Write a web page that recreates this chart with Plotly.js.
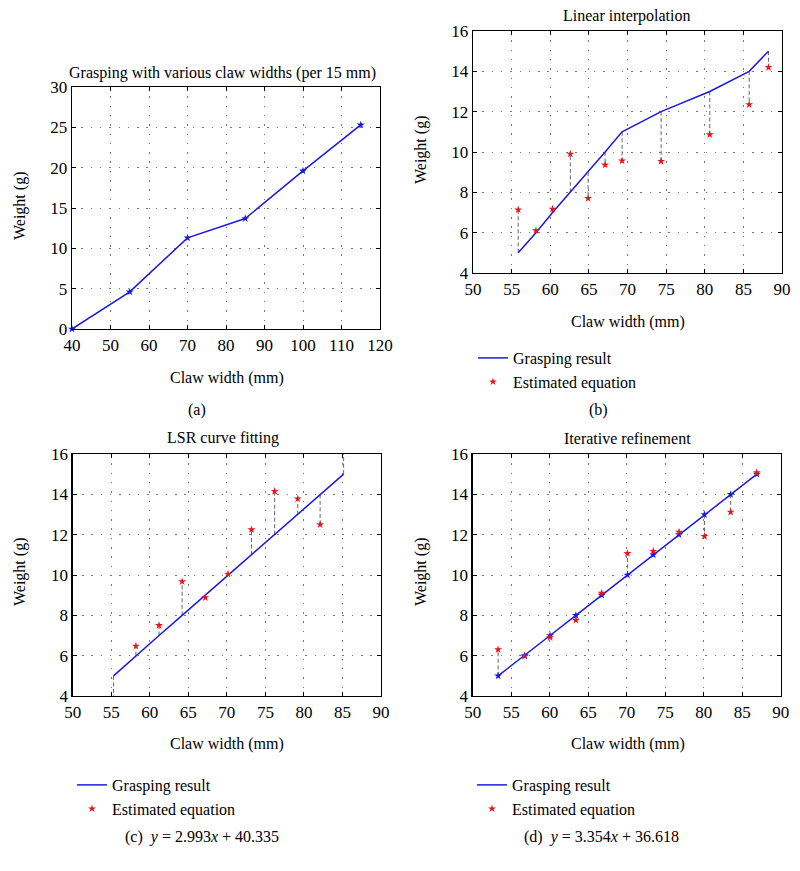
<!DOCTYPE html>
<html>
<head>
<meta charset="utf-8">
<script src="https://cdn.plot.ly/plotly-3.0.1.min.js"></script>
<style>html,body{margin:0;padding:0;background:#fff;}#chart{width:800px;height:871px;}</style>
</head>
<body>
<div id="chart"></div>
<script>
// ---------- DATA ----------
// (a) Grasping with various claw widths (per 15 mm)
const aWidth  = [40, 55, 70, 85, 100, 115];
const aWeight = [0, 4.6, 11.3, 13.7, 19.6, 25.3];

// (b) Linear interpolation
const bWidth     = [55.85, 58.15, 60.3, 62.6, 64.9, 67.1, 69.3, 74.35, 80.65, 85.75, 88.25];
const bGrasp     = [5, 6, 7, 8, 9, 10, 11, 12, 13, 14, 15];
const bEstimated = [7.14, 6.1, 7.17, 9.9, 7.7, 9.36, 9.56, 9.54, 10.86, 12.35, 14.2];

// (c) LSR curve fitting  y = 2.993x + 40.335
const cWidth     = [55.3, 58.2, 61.2, 64.2, 67.2, 70.15, 73.2, 76.2, 79.2, 82.1, 85.15];
const cGrasp     = [5, 6, 7, 8, 9, 10, 11, 12, 13, 14, 15];
const cEstimated = [3.5, 6.48, 7.5, 9.67, 8.88, 10.05, 12.25, 14.15, 13.78, 12.5, 16.5];

// (d) Iterative refinement  y = 3.354x + 36.618
const dWidth     = [53.3, 56.75, 60.05, 63.4, 66.75, 70.1, 73.45, 76.8, 80.1, 83.5, 86.9];
const dGrasp     = [5, 6, 7, 8, 9, 10, 11, 12, 13, 14, 15];
const dEstimated = [6.3, 5.97, 6.9, 7.76, 9.1, 11.07, 11.18, 12.13, 11.92, 13.12, 15.08];

const titles = ["Grasping with various claw widths (per 15 mm)", "Linear interpolation", "LSR curve fitting", "Iterative refinement"];
const xTitle = "Claw width (mm)";
const yTitle = "Weight (g)";
const legendNames = ["Grasping result", "Estimated equation"];
const captions = ["(a)", "(b)", "(c)  <i>y</i> = 2.993<i>x</i> + 40.335", "(d)  <i>y</i> = 3.354<i>x</i> + 36.618"];

// ---------- HELPERS ----------
const W = 800, H = 871;
const px = x => x / W;
const py = y => 1 - y / H;
const FONT = "Liberation Serif, Times New Roman, serif";
const BLUE = "#1a1adf";
const RED = "#e8141e";

function residuals(xs, a, b) {
  const X = [], Y = [];
  for (let i = 0; i < xs.length; i++) { X.push(xs[i], xs[i], null); Y.push(a[i], b[i], null); }
  return {X, Y};
}

const traces = [];
// (a)
traces.push({x: aWidth, y: aWeight, xaxis: 'x', yaxis: 'y', mode: 'lines+markers',
  line: {color: BLUE, width: 1.5}, marker: {symbol: 'star', size: 6, color: BLUE}, showlegend: false, cliponaxis: false});

function panel(xs, grasp, est, xa, ya, leg, blueMarkers) {
  const r = residuals(xs, grasp, est);
  traces.push({x: r.X, y: r.Y, xaxis: xa, yaxis: ya, mode: 'lines',
    line: {color: '#666', width: 1, dash: '4px,2.5px'}, showlegend: false, hoverinfo: 'skip'});
  traces.push({x: xs, y: grasp, xaxis: xa, yaxis: ya, mode: 'lines', name: legendNames[0],
    line: {color: BLUE, width: 1.5}, legend: leg});
  if (blueMarkers) {
    traces.push({x: xs, y: grasp, xaxis: xa, yaxis: ya, mode: 'markers', showlegend: false,
      marker: {symbol: 'star', size: 6, color: BLUE}});
  }
  traces.push({x: xs, y: est, xaxis: xa, yaxis: ya, mode: 'markers', name: legendNames[1],
    marker: {symbol: 'star', size: 6, color: RED}, legend: leg});
}
panel(bWidth, bGrasp, bEstimated, 'x2', 'y2', 'legend', false);
panel(cWidth, cGrasp, cEstimated, 'x3', 'y3', 'legend2', false);
panel(dWidth, dGrasp, dEstimated, 'x4', 'y4', 'legend3', true);

function axis(domain, range, dtick, anchor) {
  return {domain: domain, range: range, dtick: dtick, tick0: range[0], anchor: anchor,
    showline: true, mirror: 'ticks', linecolor: '#000', linewidth: 1.3,
    ticks: 'inside', ticklen: 4, tickcolor: '#000',
    showgrid: true, gridcolor: '#777', griddash: '1.5px,7.8px', gridwidth: 1, zeroline: false,
    tickfont: {family: FONT, size: 17, color: '#000', weight: 400}, fixedrange: true};
}

const legFont = {family: FONT, size: 16, color: '#000', weight: 400};
const layout = {
  width: W, height: H, autosize: false,
  margin: {l: 0, r: 0, t: 0, b: 0},
  paper_bgcolor: '#fff', plot_bgcolor: '#fff',
  font: {family: FONT, color: '#000', weight: 400},
  xaxis:  axis([px(72), px(380)], [40, 120], 10, 'y'),
  yaxis:  axis([py(329), py(87)], [0, 30], 5, 'x'),
  xaxis2: axis([px(473), px(782)], [50, 90], 5, 'y2'),
  yaxis2: axis([py(273), py(31)], [4, 16], 2, 'x2'),
  xaxis3: axis([px(72.7), px(381)], [50, 90], 5, 'y3'),
  yaxis3: axis([py(696), py(454)], [4, 16], 2, 'x3'),
  xaxis4: axis([px(472.7), px(780.7)], [50, 90], 5, 'y4'),
  yaxis4: axis([py(696), py(454)], [4, 16], 2, 'x4'),
  showlegend: true,
  legend:  {x: px(473), y: py(341), xanchor: 'left', yanchor: 'top', bgcolor: 'rgba(0,0,0,0)', font: legFont, itemwidth: 30, tracegroupgap: 0},
  legend2: {x: px(72), y: py(768), xanchor: 'left', yanchor: 'top', bgcolor: 'rgba(0,0,0,0)', font: legFont, itemwidth: 30, tracegroupgap: 0},
  legend3: {x: px(472), y: py(768), xanchor: 'left', yanchor: 'top', bgcolor: 'rgba(0,0,0,0)', font: legFont, itemwidth: 30, tracegroupgap: 0},
  annotations: []
};

function ann(text, x, y, size, angle) {
  layout.annotations.push({text: text, x: px(x), y: py(y), xref: 'paper', yref: 'paper',
    xanchor: 'center', yanchor: 'middle', showarrow: false, textangle: angle || 0,
    font: {family: FONT, size: size, color: '#000', weight: 400}});
}
// titles
ann(titles[0], 222, 73, 16);
ann(titles[1], 627, 16, 16);
ann(titles[2], 223, 438, 16);
ann(titles[3], 627, 438, 16);
// axis titles
ann(xTitle, 227, 378, 16); ann(xTitle, 628, 322, 16); ann(xTitle, 227, 744, 16); ann(xTitle, 628, 744, 16);
ann(yTitle, 20, 206, 16, -90); ann(yTitle, 421, 150, 16, -90); ann(yTitle, 20, 572, 16, -90); ann(yTitle, 421, 572, 16, -90);
// captions
ann(captions[0], 197, 410, 16); ann(captions[1], 598, 410, 16);
ann(captions[2], 202, 837, 16); ann(captions[3], 601, 837, 16);

Plotly.newPlot('chart', traces, layout, {staticPlot: true, displayModeBar: false});
</script>
</body>
</html>
